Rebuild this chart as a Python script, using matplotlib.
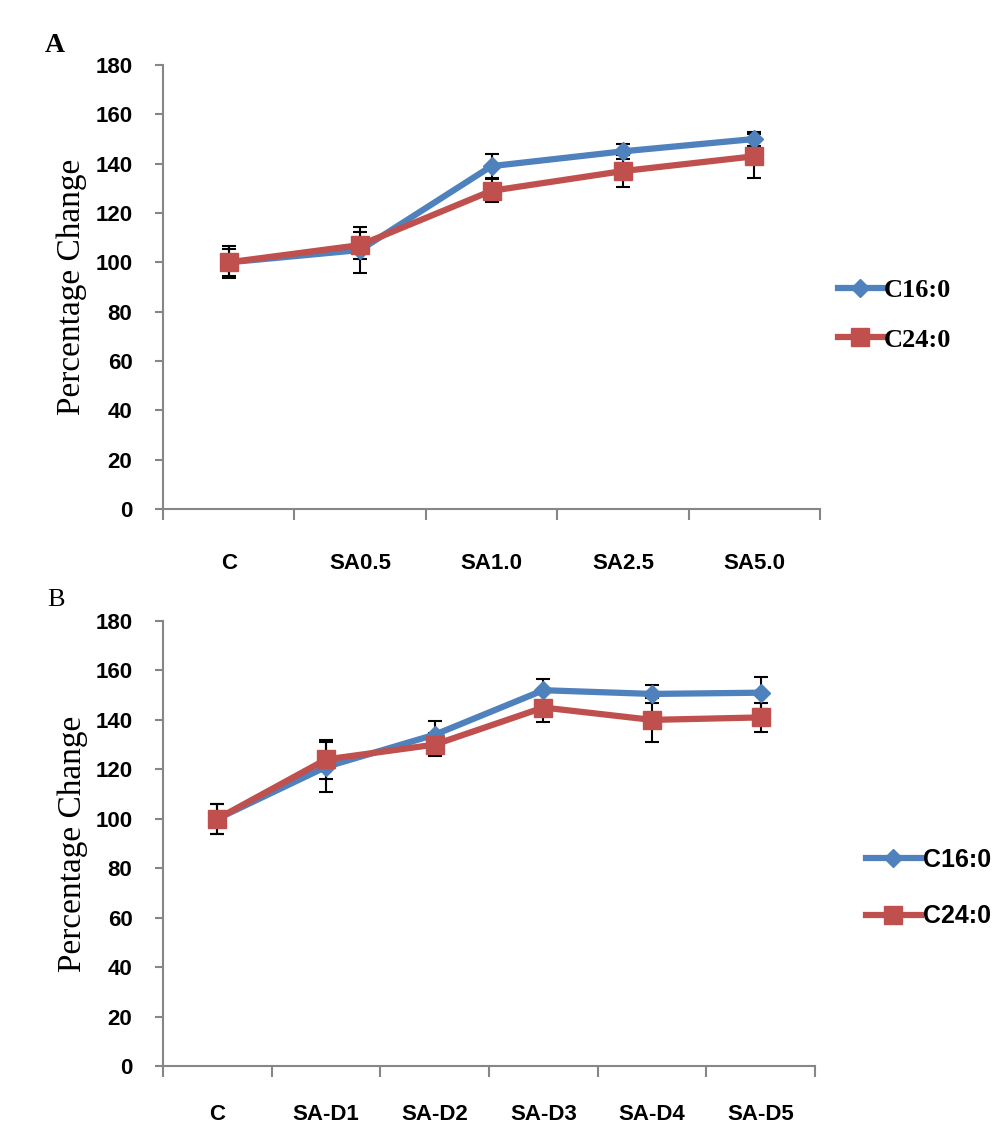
import matplotlib
matplotlib.use("Agg")
import matplotlib.pyplot as plt
import numpy as np

# panel A data
cats_a = ["C", "SA0.5", "SA1.0", "SA2.5", "SA5.0"]
c16_a = [100, 105, 139, 145, 150]
c16_a_err = [5.5, 9.5, 5, 3, 3]
c24_a = [100, 107, 129, 137, 143]
c24_a_err = [6.5, 5.5, 4.7, 6.5, 9]

# panel B data
cats_b = ["C", "SA-D1", "SA-D2", "SA-D3", "SA-D4", "SA-D5"]
c16_b = [100, 121, 134, 152, 150.5, 151]
c16_b_err = [6, 10, 5.5, 4.5, 3.5, 6.5]
c24_b = [100, 124, 130, 145, 140, 141]
c24_b_err = [6, 8, 4.5, 6, 9, 6]

series_names = ["C16:0", "C24:0"]
BLUE = "#4F81BD"
RED = "#C0504D"
SPINE = "#868686"
TICKFONT = ["Liberation Sans Narrow", "Liberation Sans", "DejaVu Sans"]


def draw_panel(ax, cats, blue, blue_err, red, red_err, xpad):
    x = np.arange(len(cats))
    for vals, err in [(blue, blue_err), (red, red_err)]:
        ax.errorbar(x, vals, yerr=err, fmt="none", ecolor="black",
                    elinewidth=1.5, capsize=5, capthick=1.5, zorder=2)
    ax.plot(x, blue, color=BLUE, lw=4.5, marker="D", ms=9, zorder=3,
            label=series_names[0])
    ax.plot(x, red, color=RED, lw=4.5, marker="s", ms=13, zorder=4,
            label=series_names[1])

    ax.set_xlim(-0.5, len(cats) - 0.5)
    ax.set_ylim(0, 180)
    ax.set_yticks(np.arange(0, 181, 20))
    ax.set_xticks(x)
    ax.set_xticklabels(cats)
    ax.set_xticks(np.arange(-0.5, len(cats), 1), minor=True)
    ax.tick_params(axis="x", which="major", length=0, pad=xpad)
    ax.tick_params(axis="x", which="minor", length=8, width=1.5,
                   color=SPINE, direction="out")
    ax.tick_params(axis="y", length=6, width=1.5, color=SPINE, pad=16)
    for lab in ax.get_xticklabels() + ax.get_yticklabels():
        lab.set_fontfamily(TICKFONT)
        lab.set_fontweight("bold")
        lab.set_fontsize(16)
    for s in ["top", "right"]:
        ax.spines[s].set_visible(False)
    for s in ["left", "bottom"]:
        ax.spines[s].set_color(SPINE)
        ax.spines[s].set_linewidth(1.5)
    ax.set_ylabel("Percentage Change", family="Liberation Serif",
                  fontsize=24)


fig = plt.figure(figsize=(10.02, 11.3), dpi=100)

ax_a = fig.add_axes([163 / 1002, 1 - 509 / 1130, 657 / 1002, 444 / 1130])
draw_panel(ax_a, cats_a, c16_a, c16_a_err, c24_a, c24_a_err, 32)
ax_a.yaxis.set_label_coords(-0.115, 0.5)
h, l = ax_a.get_legend_handles_labels()
fig.legend(h, l, loc="center left", bbox_to_anchor=(814 / 1002, 1 - 315 / 1130),
           frameon=False, handlelength=1.7, handletextpad=0.05,
           labelspacing=1.0, prop={"family": "Liberation Serif",
                                   "weight": "bold", "size": 19})

ax_b = fig.add_axes([163 / 1002, 1 - 1066 / 1130, 652 / 1002, 445 / 1130])
draw_panel(ax_b, cats_b, c16_b, c16_b_err, c24_b, c24_b_err, 27)
ax_b.yaxis.set_label_coords(-0.115, 0.5)
h, l = ax_b.get_legend_handles_labels()
fig.legend(h, l, loc="center left", bbox_to_anchor=(843 / 1002, 1 - 888 / 1130),
           frameon=False, handlelength=2.2, handletextpad=0.1,
           labelspacing=1.3, prop={"family": TICKFONT,
                                   "weight": "bold", "size": 18})

fig.text(45 / 1002, 1 - 45 / 1130, "A", family="Liberation Serif",
         weight="bold", fontsize=20, va="center")
fig.text(47 / 1002, 1 - 600 / 1130, "B", family="Liberation Serif",
         fontsize=19, va="center")

fig.savefig("out.png", dpi=100, facecolor="white")
